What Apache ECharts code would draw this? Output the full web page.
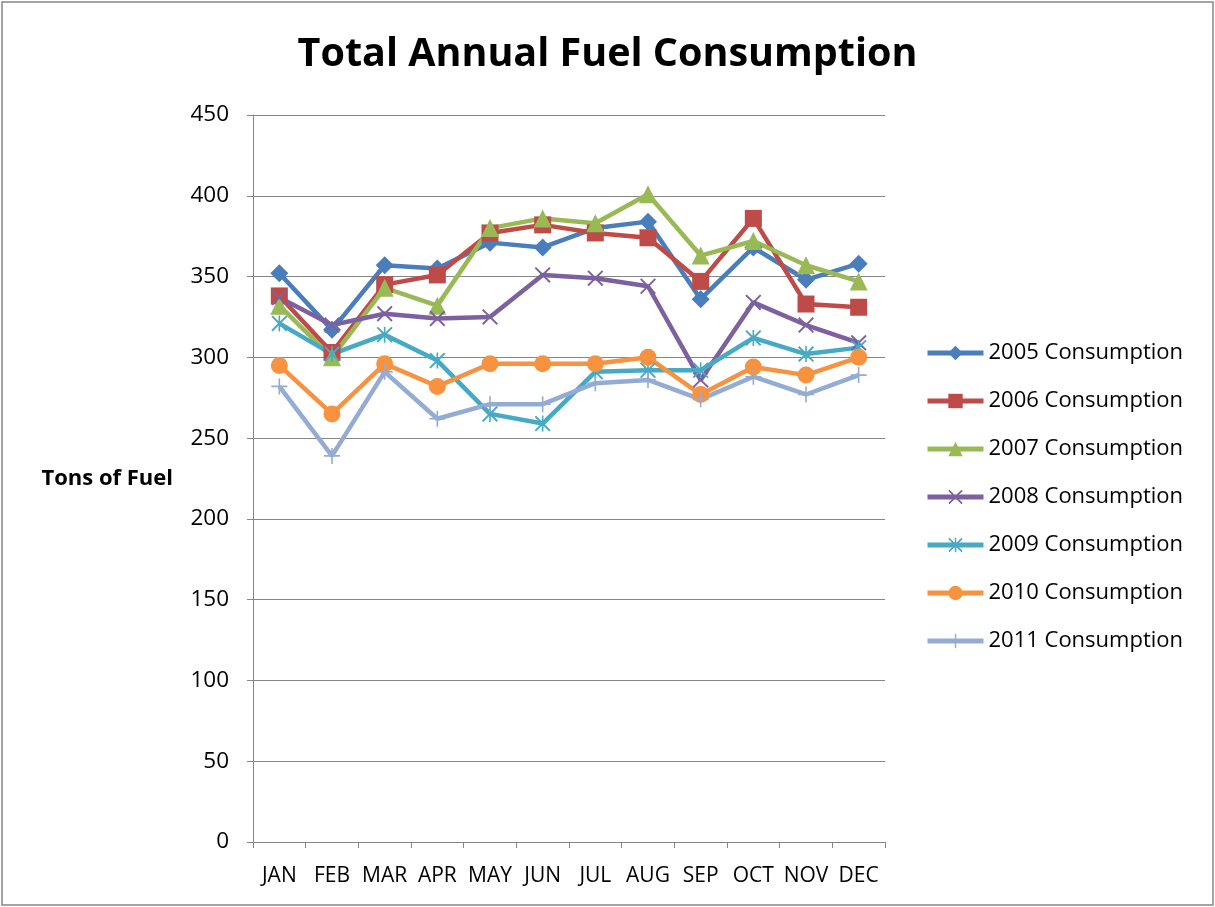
<!DOCTYPE html>
<html>
<head>
<meta charset="utf-8">
<script src="https://cdn.jsdelivr.net/npm/echarts@6/dist/echarts.min.js"></script>
<style>
  html, body { margin: 0; padding: 0; background: #fff; }
  #grafico { width: 1215px; height: 907px; }
</style>
</head>
<body>
<div id="grafico"></div>
<script>
// dados
const meses = ["JAN", "FEB", "MAR", "APR", "MAY", "JUN", "JUL", "AUG", "SEP", "OCT", "NOV", "DEC"]
const consumo2005 = [352, 317, 357, 355, 371, 368, 380, 384, 336, 368, 348, 358]
const consumo2006 = [338, 303, 345, 351, 377, 382, 377, 374, 347, 386, 333, 331]
const consumo2007 = [332, 300, 343, 332, 380, 386, 383, 401, 363, 372, 357, 347]
const consumo2008 = [337, 320, 327, 324, 325, 351, 349, 344, 286, 334, 320, 309]
const consumo2009 = [321, 302, 314, 298, 265, 259, 291, 292, 292, 312, 302, 306]
const consumo2010 = [295, 265, 296, 282, 296, 296, 296, 300, 277, 294, 289, 300]
const consumo2011 = [282, 239, 291, 262, 271, 271, 284, 286, 274, 288, 277, 289]

const simboloX = "path://M0,1.7 L1.7,0 L10,8.3 L18.3,0 L20,1.7 L11.7,10 L20,18.3 L18.3,20 L10,11.7 L1.7,20 L0,18.3 L8.3,10 Z"
const simboloAsterisco = simboloX + " M9,0 L11,0 L11,20 L9,20 Z"
const simboloMais = "path://M9,0 L11,0 L11,9 L20,9 L20,11 L11,11 L11,20 L9,20 L9,11 L0,11 L0,9 L9,9 Z"

const fonte = "Open Sans"

function serie(nome, dados, simbolo, tamanho) {
  return {
    name: nome,
    type: "line",
    data: dados,
    symbol: simbolo,
    symbolSize: tamanho,
    showAllSymbol: true,
    lineStyle: { width: 4.5 },
    emphasis: { disabled: true },
  }
}

let series = [
  serie("2005 Consumption", consumo2005, "diamond", 18),
  serie("2006 Consumption", consumo2006, "rect", 17),
  serie("2007 Consumption", consumo2007, "triangle", 18),
  serie("2008 Consumption", consumo2008, simboloX, 16),
  serie("2009 Consumption", consumo2009, simboloAsterisco, 16),
  serie("2010 Consumption", consumo2010, "circle", 17),
  serie("2011 Consumption", consumo2011, simboloMais, 16),
]

let myChart = echarts.init(document.getElementById("grafico"))
let option = {
  animation: false,
  color: ["#4A7EBB", "#BE4B48", "#98B954", "#7D60A0", "#46AAC5", "#F69240", "#94ABD3"],
  title: {
    text: "Total Annual Fuel Consumption",
    left: "center",
    top: 30,
    textStyle: { fontFamily: fonte, fontSize: 39.5, fontWeight: "bold", color: "#000" },
  },
  legend: {
    orient: "vertical",
    left: 920,
    top: 337,
    itemWidth: 56,
    itemHeight: 18,
    itemGap: 26,
    lineStyle: { width: 5 },
    textStyle: { fontFamily: fonte, fontSize: 22, color: "#000" },
  },
  grid: { left: 253, right: 330, top: 115, bottom: 65, containLabel: false },
  xAxis: {
    type: "category",
    data: meses,
    boundaryGap: true,
    axisLine: { lineStyle: { color: "#868686", width: 1 } },
    axisTick: { show: true, length: 6, lineStyle: { color: "#868686" } },
    axisLabel: { interval: 0, margin: 24, fontFamily: fonte, fontSize: 21, color: "#000" },
  },
  yAxis: {
    type: "value",
    min: 0,
    max: 450,
    interval: 50,
    name: "Tons of Fuel",
    nameLocation: "middle",
    nameRotate: 0,
    nameGap: 80,
    nameTextStyle: { fontFamily: fonte, fontSize: 22, fontWeight: "bold", color: "#000" },
    axisLine: { show: true, lineStyle: { color: "#868686", width: 1 } },
    axisTick: { show: true, length: 6, lineStyle: { color: "#868686" } },
    axisLabel: { margin: 24, fontFamily: fonte, fontSize: 22.5, color: "#000" },
    splitLine: { lineStyle: { color: "#868686", width: 1 } },
  },
  series: series,
  graphic: [
    {
      type: "rect",
      shape: { x: 2, y: 2, width: 1211, height: 903 },
      style: { fill: "none", stroke: "#868686", lineWidth: 1.5 },
      silent: true,
    },
  ],
}

option && myChart.setOption(option)
</script>
</body>
</html>
